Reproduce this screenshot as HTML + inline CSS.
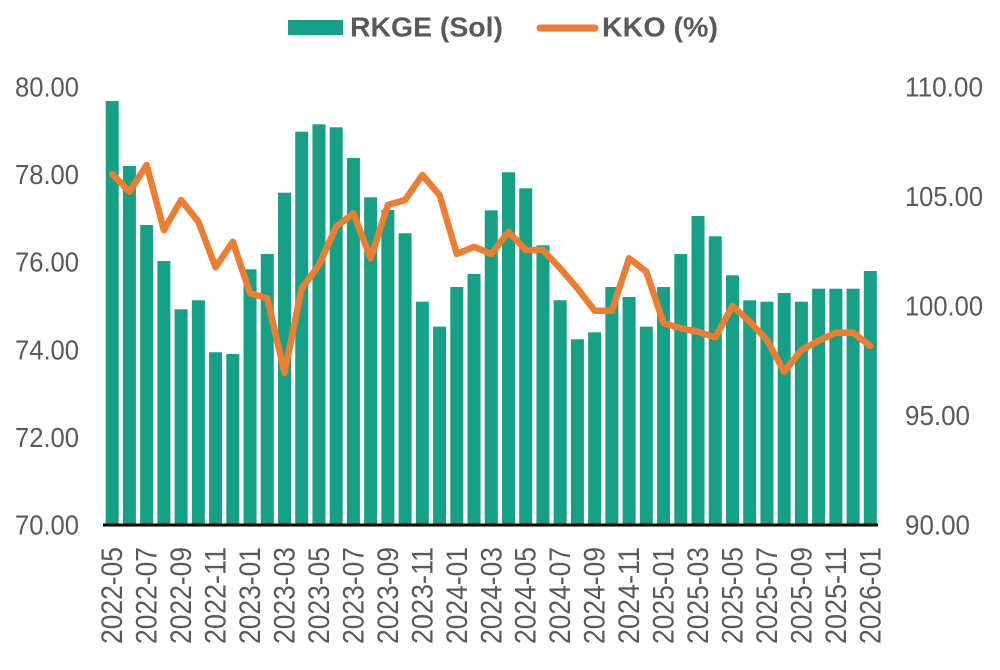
<!DOCTYPE html>
<html>
<head>
<meta charset="utf-8">
<style>
  html, body { margin: 0; padding: 0; background: #ffffff; }
  svg { display: block; }
  text { font-family: "Liberation Sans", sans-serif; fill: #595959; }
</style>
</head>
<body>
<svg width="1000" height="670" viewBox="0 0 1000 670" xmlns="http://www.w3.org/2000/svg">
  <rect x="0" y="0" width="1000" height="670" fill="#ffffff"/>

  <!-- Legend -->
  <rect x="288" y="20" width="55" height="15" fill="#16A085"/>
  <text x="350" y="36.7" font-size="28" font-weight="bold" textLength="153" lengthAdjust="spacingAndGlyphs">RKGE (Sol)</text>
  <line x1="540" y1="28" x2="595" y2="28" stroke="#ED7D31" stroke-width="7" stroke-linecap="round"/>
  <text x="602" y="36.7" font-size="28" font-weight="bold" textLength="116" lengthAdjust="spacingAndGlyphs">KKO (%)</text>

  <!-- Left axis labels -->
  <g font-size="28">
    <text x="15" y="96.5" textLength="64" lengthAdjust="spacingAndGlyphs">80.00</text>
    <text x="15" y="184" textLength="64" lengthAdjust="spacingAndGlyphs">78.00</text>
    <text x="15" y="271.7" textLength="64" lengthAdjust="spacingAndGlyphs">76.00</text>
    <text x="15" y="359.3" textLength="64" lengthAdjust="spacingAndGlyphs">74.00</text>
    <text x="15" y="446.9" textLength="64" lengthAdjust="spacingAndGlyphs">72.00</text>
    <text x="15" y="534.5" textLength="64" lengthAdjust="spacingAndGlyphs">70.00</text>
  </g>

  <!-- Right axis labels -->
  <g font-size="28">
    <text x="905" y="96.5" textLength="78" lengthAdjust="spacingAndGlyphs">110.00</text>
    <text x="905" y="206" textLength="78" lengthAdjust="spacingAndGlyphs">105.00</text>
    <text x="905" y="315.5" textLength="78" lengthAdjust="spacingAndGlyphs">100.00</text>
    <text x="905" y="425" textLength="65" lengthAdjust="spacingAndGlyphs">95.00</text>
    <text x="905" y="534.5" textLength="65" lengthAdjust="spacingAndGlyphs">90.00</text>
  </g>

  <!-- Bars -->
  <g id="bars" fill="#16A085"></g>

  <!-- Axis line -->
  <line x1="103" y1="525" x2="878" y2="525" stroke="#000000" stroke-width="3"/>

  <!-- Line series -->
  <polyline id="kko" fill="none" stroke="#ED7D31" stroke-width="6.5" stroke-linejoin="round" stroke-linecap="round" points=""/>

  <!-- X labels -->
  <g id="xlabels" font-size="30"></g>

  <script>
    (function(){
      var ns = "http://www.w3.org/2000/svg";
      var tops = [101,166,225,261,309.3,300.3,352.3,354,269.3,254,192.7,131.7,124.3,127.3,158,197.3,210,233.3,301.7,326.7,287,274,210.3,172.3,188.3,245.3,300.3,339.3,332.3,287,297,326.7,287,254,216,236.3,275.3,300.3,301.7,293,301.7,288.7,288.7,288.7,271];
      var ly = [174,191.7,165,230,200,221.7,267.3,241.7,293.3,298.3,372.7,288.3,265,226.7,213.3,258.3,205,200,175,195,254,246.7,254,231.7,250,250,268.3,288.3,310.7,310.7,258.3,271.7,323.3,328.3,331.7,337.3,306,321.7,340,371.7,350,340.7,332.7,332.7,346];
      var labels = ["2022-05","2022-07","2022-09","2022-11","2023-01","2023-03","2023-05","2023-07","2023-09","2023-11","2024-01","2024-03","2024-05","2024-07","2024-09","2024-11","2025-01","2025-03","2025-05","2025-07","2025-09","2025-11","2026-01"];
      var bars = document.getElementById("bars");
      var pts = [];
      var bw = 13;
      for (var i = 0; i < 45; i++) {
        var cx = 112.2 + 17.23 * i;
        var r = document.createElementNS(ns, "rect");
        r.setAttribute("x", (cx - bw/2).toFixed(2));
        r.setAttribute("y", tops[i]);
        r.setAttribute("width", bw);
        r.setAttribute("height", (525 - tops[i]).toFixed(2));
        bars.appendChild(r);
        pts.push(cx.toFixed(2) + "," + ly[i]);
      }
      document.getElementById("kko").setAttribute("points", pts.join(" "));
      var xl = document.getElementById("xlabels");
      for (var k = 0; k < labels.length; k++) {
        var cx2 = 112.2 + 17.23 * (2 * k);
        var t = document.createElementNS(ns, "text");
        t.setAttribute("transform", "translate(" + (cx2 + 10).toFixed(2) + ",547) rotate(-90)");
        t.setAttribute("text-anchor", "end");
        t.setAttribute("textLength", "97");
        t.setAttribute("lengthAdjust", "spacingAndGlyphs");
        t.textContent = labels[k];
        xl.appendChild(t);
      }
    })();
  </script>
</svg>
</body>
</html>
